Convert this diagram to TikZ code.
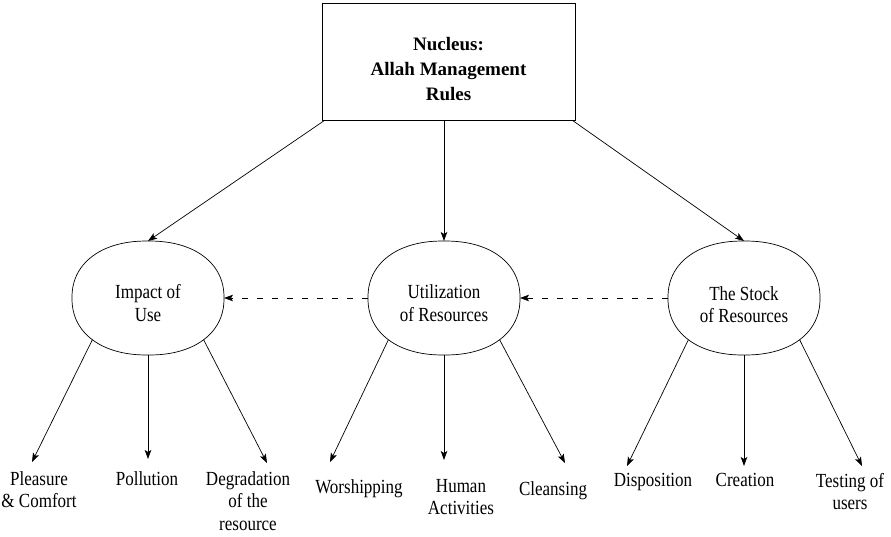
\documentclass[tikz,border=0pt]{standalone}
\usepackage{fontspec}
\setmainfont{Liberation Serif}
\newfontfamily\narrowserif[FakeStretch=0.85]{Liberation Serif}
\usetikzlibrary{arrows.meta}

\tikzset{
  % rounded "superellipse" outline with named border points
  blob/.pic={
    \draw[line width=0.7pt] plot[smooth cycle, domain=1:357, samples=90, variable=\t]
      ({76*sign(cos(\t))*abs(cos(\t))^0.9}, {57*sign(sin(\t))*abs(sin(\t))^0.9});
    \coordinate (-n)  at (0,-57);
    \coordinate (-s)  at (0,57);
    \coordinate (-w)  at (-76,0);
    \coordinate (-e)  at (76,0);
    \coordinate (-sw) at (-55.6,41.7);
    \coordinate (-se) at (55.6,41.7);
  },
  link/.style={draw=black, line width=0.7pt, -{Stealth[length=9pt,width=6.5pt,inset=2pt]}},
  weak/.style={link, dash pattern=on 6pt off 9pt},
  topictext/.style={anchor=north, align=center, inner sep=0pt,
    font=\narrowserif\fontsize{20}{22.5}\selectfont},
  leaf/.style={anchor=north, align=center, inner sep=0pt,
    font=\narrowserif\fontsize{20}{22.5}\selectfont},
  headbox/.style={draw, line width=0.7pt, minimum width=253pt, minimum height=117pt, inner sep=0pt}
}

\begin{document}
\begin{tikzpicture}[x=1pt, y=-1pt]
\useasboundingbox (0,0) rectangle (891,536);

% central box
\node[headbox] (box) at (448.5,61.5) {};
\node[anchor=north, align=center, inner sep=0pt,
      font=\bfseries\fontsize{19}{25}\selectfont] (title) at (448.5,37)
  {Nucleus:\\Allah Management\\Rules};

% the three themes
\pic (imp) at (148,298) {blob};
\pic (utl) at (444,298) {blob};
\pic (stk) at (744,298) {blob};
\node[topictext] (impt) at (148,284.5) {Impact of\\Use};
\node[topictext] (utlt) at (444,284.5) {Utilization\\of Resources};
\node[topictext] (stkt) at (744,286) {The Stock\\of Resources};

% links from the nucleus
\draw[link] ([xshift=3pt]box.south west) -- (imp-n);
\draw[link] (utl-n |- box.south) -- (utl-n);
\draw[link] ([xshift=-3pt]box.south east) -- (stk-n);

% dashed links between themes
\draw[weak] (utl-w) -- (imp-e);
\draw[weak] (stk-w) -- (utl-e);

% arrow tips of the leaves
\coordinate (a1) at (32,462);
\coordinate (a2) at (148,459);
\coordinate (a3) at (267,463);
\coordinate (b1) at (330,462);
\coordinate (b2) at (444,460);
\coordinate (b3) at (565,463);
\coordinate (c1) at (627,466);
\coordinate (c2) at (744,466);
\coordinate (c3) at (862,466);

\draw[link] (imp-sw) -- (a1);
\draw[link] (imp-s)  -- (a2);
\draw[link] (imp-se) -- (a3);
\draw[link] (utl-sw) -- (b1);
\draw[link] (utl-s)  -- (b2);
\draw[link] (utl-se) -- (b3);
\draw[link] (stk-sw) -- (c1);
\draw[link] (stk-s)  -- (c2);
\draw[link] (stk-se) -- (c3);

% leaf labels
\node[leaf] (l1) at (39,471)  {Pleasure\\\& Comfort};
\node[leaf] (l2) at (147,471) {Pollution};
\node[leaf] (l3) at (248,471) {Degradation\\of the\\resource};
\node[leaf] (l4) at (359,479) {Worshipping};
\node[leaf] (l5) at (461,479) {Human\\Activities};
\node[leaf] (l6) at (553,481) {Cleansing};
\node[leaf] (l7) at (653,473) {Disposition};
\node[leaf] (l8) at (745,473) {Creation};
\node[leaf] (l9) at (850,473) {Testing of\\users};
\end{tikzpicture}
\end{document}
